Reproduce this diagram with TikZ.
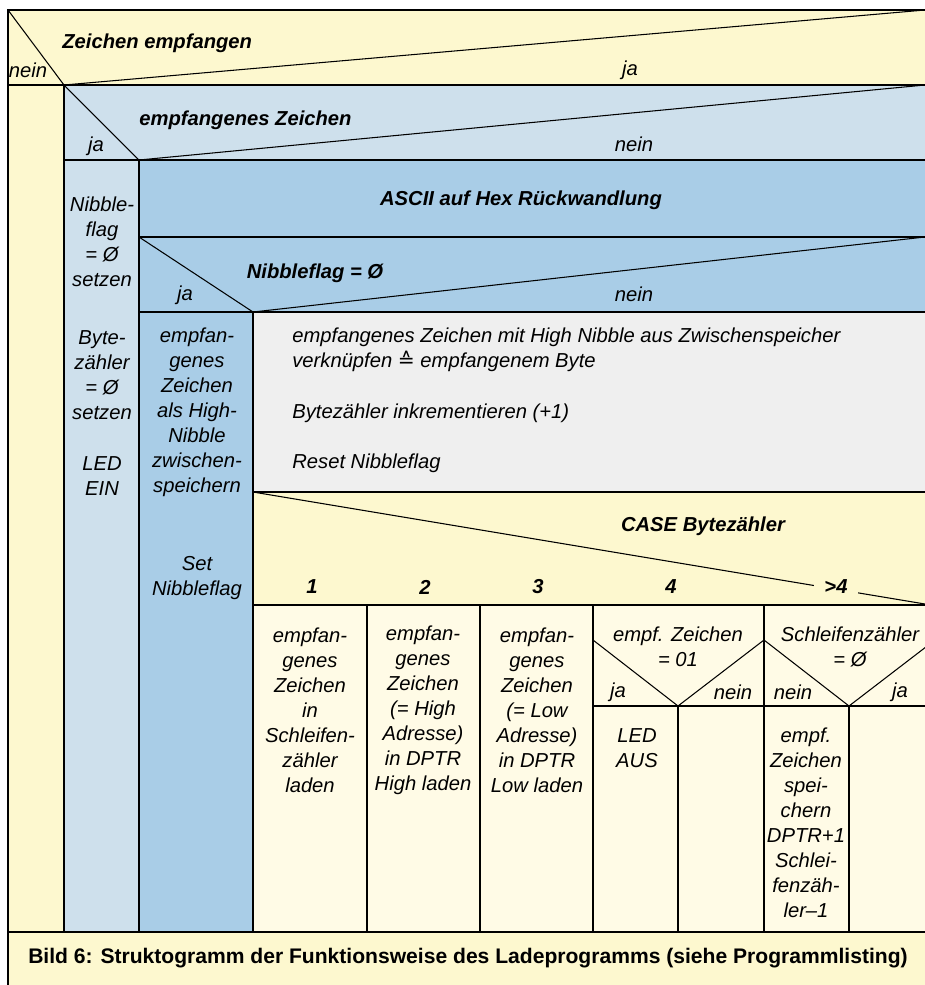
\documentclass[tikz,border=0pt]{standalone}
\usepackage{fontspec}
\setmainfont{Liberation Sans}
\newfontfamily\symfont{DejaVu Sans}
\usetikzlibrary{positioning}

\definecolor{gelb}{HTML}{FDF8CF}
\definecolor{hellgelb}{HTML}{FFFBE6}
\definecolor{hellblau}{HTML}{CEE0EC}
\definecolor{blau}{HTML}{A9CDE7}
\definecolor{grau}{HTML}{EFEFEF}

\tikzset{
  txt/.style={font=\itshape\fontsize{11.5}{14.2}\selectfont, align=center, inner sep=0pt},
  cond/.style={font=\bfseries\itshape\fontsize{11.5}{14.2}\selectfont, inner sep=0pt},
  rand/.style={line width=1.1pt},
  schraeg/.style={line width=0.6pt}
}

\begin{document}
\begin{tikzpicture}[x=0.02cm, y=-0.02cm]
    \useasboundingbox (0,0) rectangle (925,985);
    % FLAECHEN
    \fill[gelb] (8,10) rectangle (940,990);
    \fill[hellblau] (64,85) rectangle (940,932);
    \fill[blau] (139,160) rectangle (940,932);
    \fill[grau] (253,312) rectangle (940,492);
    \fill[gelb] (253,492) rectangle (940,605);
    \fill[hellgelb] (253,605) rectangle (940,932);

    % AUSSEN: Zeichen empfangen
    \draw[rand] (8,990) -- (8,10) -- (940,10);
    \draw[schraeg] (8,10) -- (64,85) -- (925,10);
    \draw[rand] (8,85) -- (940,85);
    \draw[rand] (64,85) -- (64,932);
    \draw[rand] (8,932) -- (940,932);
    \node[txt] (nein0) at (28,70) {nein};
    \node[cond, anchor=west] (zeichen) at (62,43) {Zeichen empfangen};
    \node[txt] (ja0) at (630,70) {ja};

    % empfangenes Zeichen
    \draw[schraeg] (64,85) -- (139,160) -- (925,85);
    \draw[rand] (64,160) -- (940,160);
    \draw[rand] (139,160) -- (139,932);
    \node[cond, anchor=west] (empf) at (139,120) {empfangenes Zeichen};
    \node[txt] (ja1) at (96,146) {ja};
    \node[txt] (nein1) at (634,144) {nein};
    \node[txt] (nsetzen) at (102,242) {Nibble-\\flag\\= Ø\\setzen};
    \node[txt] (bsetzen) at (102,375) {Byte-\\zähler\\= Ø\\setzen};
    \node[txt] (ledein) at (102,476) {LED\\EIN};

    % ASCII und Nibbleflag
    \draw[rand] (139,237) -- (940,237);
    \node[cond] (ascii) at (521,200) {ASCII auf Hex Rückwandlung};
    \draw[schraeg] (139,237) -- (253,312) -- (925,237);
    \draw[rand] (139,312) -- (940,312);
    \draw[rand] (253,312) -- (253,932);
    \node[cond] (nflag) at (315,273) {Nibbleflag = Ø};
    \node[txt] (ja2) at (185,295) {ja};
    \node[txt] (nein2) at (634,294) {nein};
    \node[txt] (hnibble) at (197,412) {empfan-\\genes\\Zeichen\\als High-\\Nibble\\zwischen-\\speichern};
    \node[txt] (setflag) at (197,578) {Set\\Nibbleflag};
    \node[txt, align=left, anchor=west] (verkn) at (292,350) {empfangenes Zeichen mit High Nibble aus Zwischenspeicher\\verknüpfen {\symfont ≙} empfangenem Byte};
    \node[txt, anchor=west] (inkr) at (292,413) {Bytezähler inkrementieren (+1)};
    \node[txt, anchor=west] (reset) at (292,463) {Reset Nibbleflag};

    % CASE Bytezaehler
    \draw[rand] (253,492) -- (940,492);
    \draw[schraeg] (253,492) -- (925,604);
    \draw[rand] (253,605) -- (940,605);
    \foreach \x in {367,480,593,764} \draw[rand] (\x,605) -- (\x,932);
    \node[cond] (case) at (703,526) {CASE Bytezähler};
    \foreach \x/\n in {312/1, 425/2, 538/3, 671/4} \node[cond] (c\n) at (\x,587) {\n};
    \node[cond, fill=gelb, inner xsep=6pt] (cmehr) at (836,587) {>4};
    \node[txt] (fall1) at (310,710) {empfan-\\genes\\Zeichen\\in\\Schleifen-\\zähler\\laden};
    \node[txt] (fall2) at (423,710) {empfan-\\genes\\Zeichen\\(= High\\Adresse)\\in DPTR\\High laden};
    \node[txt] (fall3) at (537,710) {empfan-\\genes\\Zeichen\\(= Low\\Adresse)\\in DPTR\\Low laden};

    % Fall 4 und >4
    \draw[schraeg] (593,640) -- (678,706) -- (764,640) -- (849,706) -- (935,640);
    \draw[schraeg] (593,706) -- (940,706);
    \draw[schraeg] (678,706) -- (678,932);
    \draw[schraeg] (849,706) -- (849,932);
    \node[txt] (eq01) at (678,647) {empf. Zeichen\\= 01};
    \node[txt] (sznull) at (850,647) {Schleifenzähler\\= Ø};
    \node[txt] (ja3) at (618,692) {ja};
    \node[txt] (nein3) at (733,692) {nein};
    \node[txt] (nein4) at (793,692) {nein};
    \node[txt] (ja4) at (900,692) {ja};
    \node[txt] (ledaus) at (637,748) {LED\\AUS};
    \node[txt] (speichern) at (806,823) {empf.\\Zeichen\\spei-\\chern\\DPTR+1\\Schlei-\\fenzäh-\\ler–1};

    % Bildunterschrift
    \node[font=\bfseries\fontsize{12}{14}\selectfont, inner sep=0pt] (bild) at (468,958) {Bild 6: Struktogramm der Funktionsweise des Ladeprogramms (siehe Programmlisting)};
\end{tikzpicture}
\end{document}
